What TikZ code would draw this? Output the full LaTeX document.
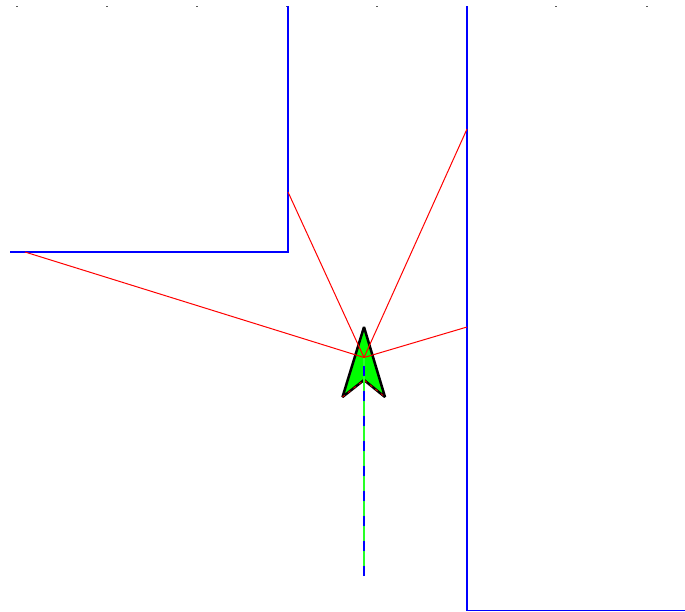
\documentclass[tikz,border=0pt]{standalone}
\usepackage{xcolor}

\begin{document}
\begin{tikzpicture}[
  x=1pt, y=-1pt,
  wall/.style={draw=blue, line width=1.3pt},
  ray/.style={draw=red, line width=1pt},
  rover/.style={draw=black, line width=2.5pt, fill=green, line join=miter, miter limit=3},
  wingray/.style={draw=red!80!black, line width=1pt, dash pattern=on 3pt off 4pt},
  pathbase/.style={draw=green!85!white, line width=1.3pt},
  pathdash/.style={draw=blue, line width=1.3pt, dash pattern=on 10pt off 15pt},
  tickdot/.style={fill=black!65}
]
\useasboundingbox (0,0) rectangle (685,611);

\coordinate (tip) at (364,327);
\coordinate (wingL) at (342.5,397);
\coordinate (notch) at (364,380);
\coordinate (wingR) at (385,397);
\coordinate (centre) at (364,357.5);
\coordinate (goal) at (364,576);

\coordinate (hitA) at (25,252);
\coordinate (hitB) at (288,192);
\coordinate (hitC) at (467,129);
\coordinate (hitD) at (467,327);

% ticks along the top
\foreach \tickx in {17,107,197,287,377,467,556,647}
  \fill[tickdot] (\tickx-1,5.5) rectangle ++(2,1);

% walls
\draw[wall] (288,6) -- (288,252) -- (10,252);
\draw[wall] (467,6) -- (467,610.5) -- (685,610.5);

\filldraw[rover] (tip) -- (wingR) -- (notch) -- (wingL) -- cycle;
\draw[wingray] (wingL) -- (notch) -- (wingR);

\draw[pathbase] (centre) -- (goal);
\draw[pathdash] (goal) -- (centre);

\draw[ray] (centre) -- (hitA);
\draw[ray] (centre) -- (hitB);
\draw[ray] (centre) -- (hitC);
\draw[ray] (centre) -- (hitD);
\end{tikzpicture}
\end{document}
